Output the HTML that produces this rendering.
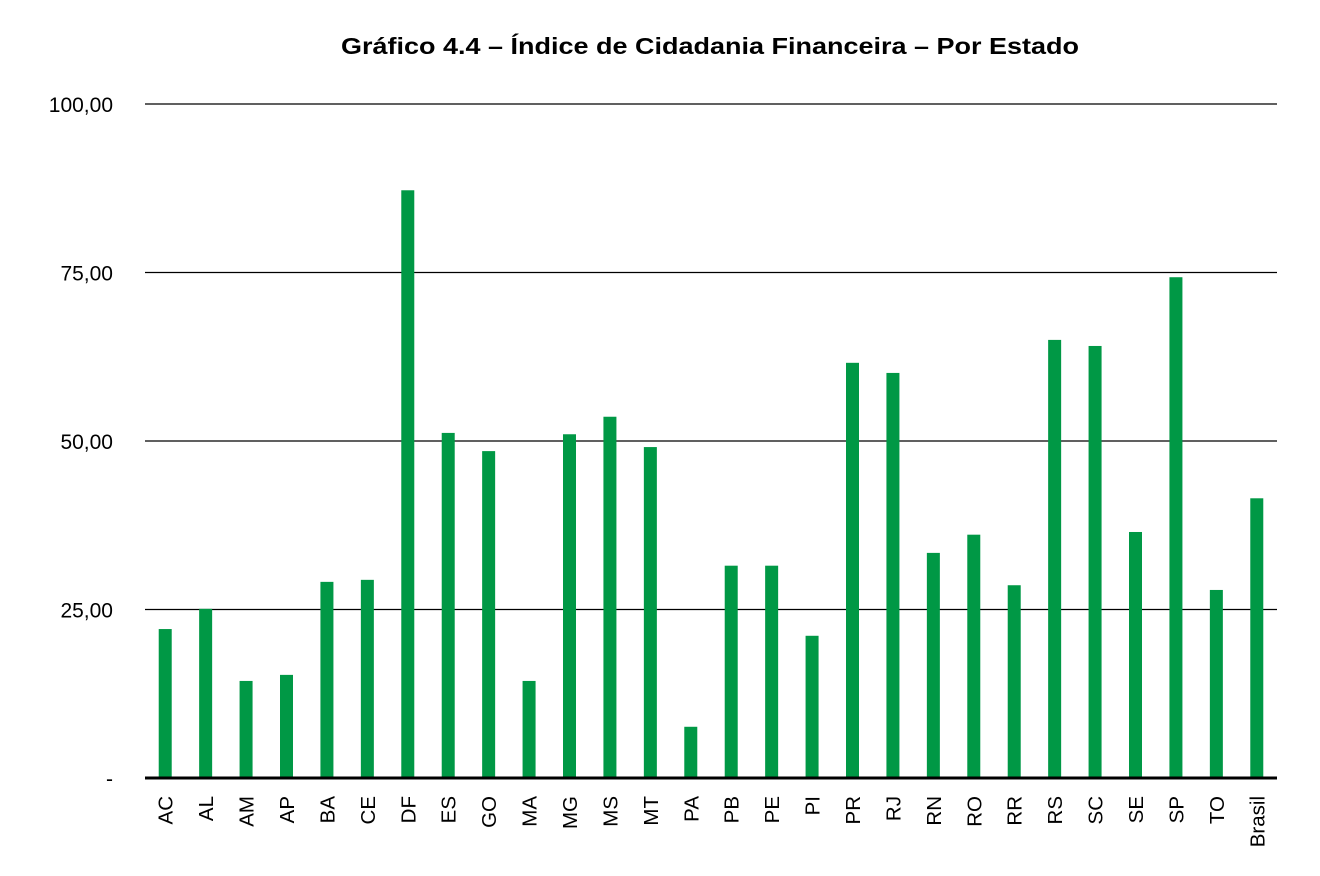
<!DOCTYPE html>
<html><head><meta charset="utf-8"><style>
html,body{margin:0;padding:0;background:#fff;}
svg text{font-family:"Liberation Sans",sans-serif;fill:#000;}
</style></head><body>
<svg id="chart" width="1320" height="871" viewBox="0 0 1320 871" xmlns="http://www.w3.org/2000/svg">
<text x="710" y="54" text-anchor="middle" font-size="23" font-weight="bold" textLength="738" lengthAdjust="spacingAndGlyphs">Gráfico 4.4 – Índice de Cidadania Financeira – Por Estado</text>
<g id="grid"></g>
<g id="yticks"></g>
<g id="bars"></g>
<g id="xticks"></g>
</svg>
<script>
const categories = ["AC","AL","AM","AP","BA","CE","DF","ES","GO","MA","MG","MS","MT","PA","PB","PE","PI","PR","RJ","RN","RO","RR","RS","SC","SE","SP","TO","Brasil"];
const values = [22.1,25.1,14.4,15.3,29.1,29.4,87.2,51.2,48.5,14.4,51.0,53.6,49.1,7.6,31.5,31.5,21.1,61.6,60.1,33.4,36.1,28.6,65.0,64.1,36.5,74.3,27.9,41.5];
const tickValues = [0,25,50,75,100];
const tickLabels = ["-","25,00","50,00","75,00","100,00"];
const NS="http://www.w3.org/2000/svg";
const x0=145,x1=1277,yBase=778,yTop=104,vMax=100;
const y=v=>yBase-(v/vMax)*(yBase-yTop);
const band=(x1-x0)/categories.length;
const xc=i=>x0+band*(i+0.5);
function mk(t,a){const e=document.createElementNS(NS,t);for(const k in a)e.setAttribute(k,a[k]);return e;}
const grid=document.getElementById('grid'),yt=document.getElementById('yticks'),bars=document.getElementById('bars'),xt=document.getElementById('xticks');
tickValues.forEach((v,i)=>{
  if(v>0){const l=mk('line',{x1:x0,x2:x1,y1:y(v),y2:y(v),stroke:'#000','stroke-width':1.3});
  
  
  grid.appendChild(l);}
  const t=mk('text',{x:113,y:y(v)+8,'text-anchor':'end','font-size':21});
  
  
  t.textContent=tickLabels[i];yt.appendChild(t);
});
values.forEach((v,i)=>{
  const r=mk('rect',{x:xc(i)-6.5,y:y(v),width:13,height:yBase-y(v),fill:'#009845'});
  
  
  bars.appendChild(r);
  const t=mk('text',{transform:`translate(${xc(i)+7.5},796) rotate(-90)`,'text-anchor':'end','font-size':20.5});
  
  
  t.textContent=categories[i];xt.appendChild(t);
});
const ax=mk('line',{x1:x0,x2:x1,y1:yBase,y2:yBase,stroke:'#000','stroke-width':3});


xt.appendChild(ax);
</script>
</body></html>
